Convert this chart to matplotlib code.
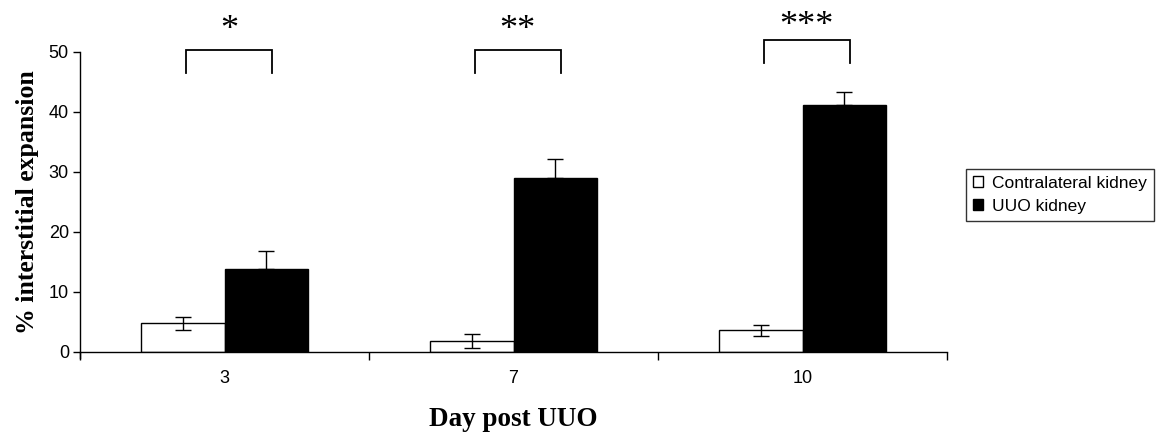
#!/usr/bin/env python3
"""
Bar chart of interstitial expansion, contralateral vs UUO kidney.
"""

import numpy as np
import matplotlib
matplotlib.use("Agg")
import matplotlib.pyplot as plt
from matplotlib.patches import Patch

# data
days = ["3", "7", "10"]
contra_mean = [4.8, 1.8, 3.6]
contra_err = [1.1, 1.2, 0.9]
uuo_mean = [13.8, 29.0, 41.2]
uuo_err = [3.1, 3.1, 2.2]
stars = ["*", "**", "***"]

sans = "Liberation Sans"
serif = "Liberation Serif"

fig = plt.figure(figsize=(11.62, 4.37), dpi=100)
ax = fig.add_axes([80 / 1162, 85 / 437, 867 / 1162, 300 / 437])

x = np.arange(len(days))
w = 0.288

ax.bar(x - w / 2, contra_mean, w, color="white", edgecolor="black", linewidth=1, zorder=2)
ax.bar(x + w / 2, uuo_mean, w, color="black", edgecolor="black", linewidth=1, zorder=2)
ax.errorbar(x - w / 2, contra_mean, yerr=contra_err, fmt="none", ecolor="black",
            elinewidth=1, capsize=6, capthick=1, zorder=3)
ax.errorbar(x + w / 2, uuo_mean, yerr=[np.zeros(len(days)), uuo_err], fmt="none",
            ecolor="black", elinewidth=1, capsize=6, capthick=1, zorder=1)

# significance brackets
bracket_top = [50.3, 50.3, 52.0]
star_gap = [0.6, 0.6, -0.5]
for i, s in enumerate(stars):
    x0, x1 = x[i] - w / 2 + 0.01, x[i] + w / 2 + 0.02
    top = bracket_top[i]
    ax.plot([x0, x0, x1, x1], [top - 3.8, top, top, top - 3.8], color="black",
            lw=1.3, clip_on=False, solid_joinstyle="miter")
    ax.text((x0 + x1) / 2, top + star_gap[i], s, ha="center", va="bottom",
            fontsize=26, family=serif, clip_on=False)

ax.set_xlim(-0.5, 2.5)
ax.set_ylim(0, 50)
ax.set_yticks(range(0, 51, 10))
ax.set_xticks(np.arange(-0.5, 2.6, 1.0))
ax.set_xticklabels([])
ax.set_xticks(x, minor=True)
ax.set_xticklabels(days, minor=True)
ax.tick_params(axis="x", which="major", direction="out", length=6, width=1)
ax.tick_params(axis="x", which="minor", length=0, pad=13, labelsize=13)
ax.tick_params(axis="y", direction="out", length=5, width=1, labelsize=13, pad=3)
for lab in ax.get_xticklabels(minor=True) + ax.get_yticklabels():
    lab.set_family(sans)

ax.spines["top"].set_visible(False)
ax.spines["right"].set_visible(False)
ax.spines["left"].set_linewidth(1)
ax.spines["bottom"].set_linewidth(1)
ax.spines["left"].set_bounds(-1, 50)

ax.set_ylabel("% interstitial expansion", fontsize=18.5, family=serif,
              fontweight="bold", labelpad=7)
fig.text(513 / 1162, 1 - 419 / 437, "Day post UUO", fontsize=19.5, family=serif,
         fontweight="bold", ha="center", va="center")

handles = [Patch(facecolor="white", edgecolor="black", lw=1),
           Patch(facecolor="black", edgecolor="black", lw=1)]
leg = fig.legend(handles, ["Contralateral kidney", "UUO kidney"],
                 loc="upper left", bbox_to_anchor=(966 / 1162, 1 - 169 / 437),
                 frameon=True, fancybox=False, edgecolor="black",
                 prop={"family": sans, "size": 12.5}, handlelength=0.6,
                 handleheight=0.6, handletextpad=0.5, borderpad=0.4,
                 labelspacing=0.45, borderaxespad=0)
leg.get_frame().set_linewidth(1)

fig.savefig("out.png", dpi=100)
